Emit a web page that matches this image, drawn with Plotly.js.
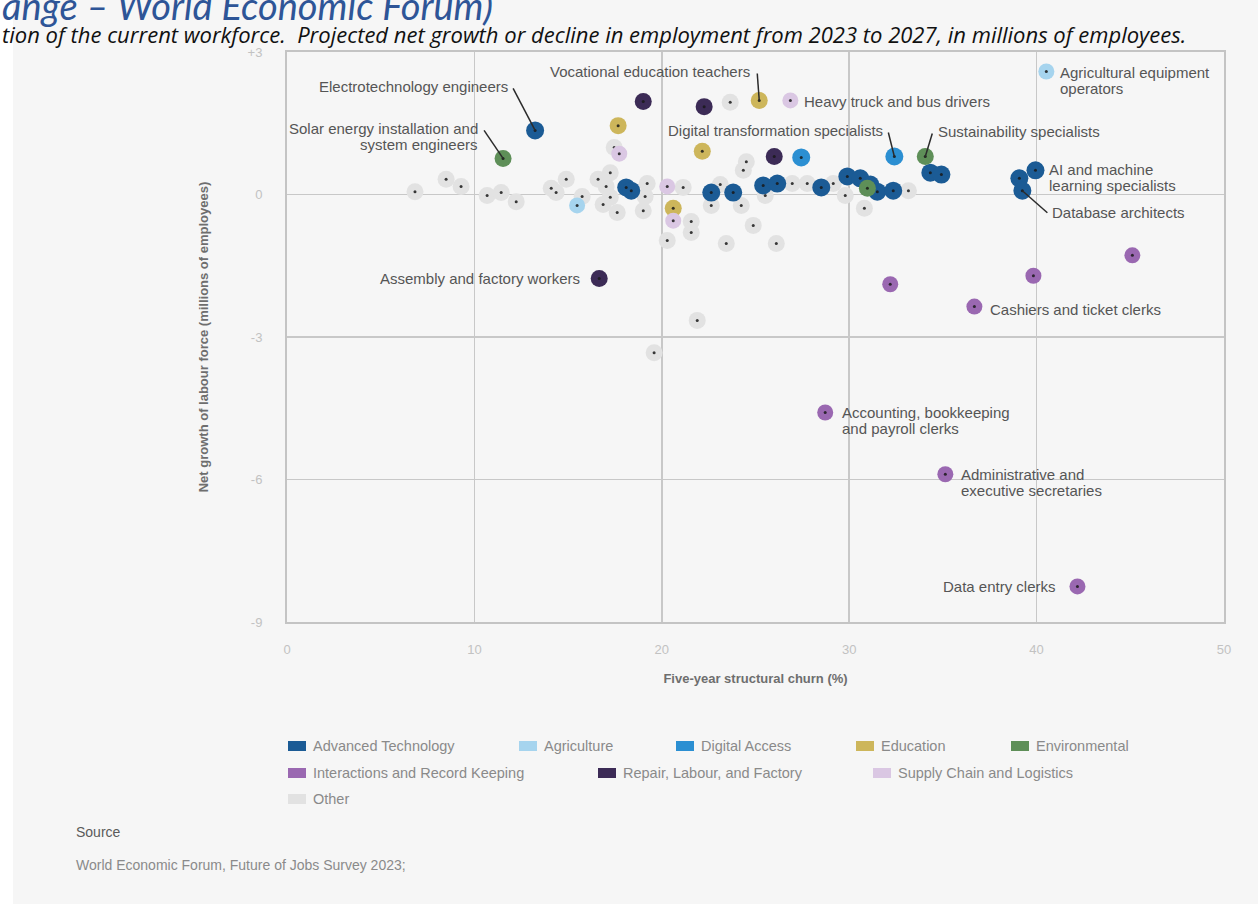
<!DOCTYPE html>
<html><head><meta charset="utf-8">
<script src="https://cdn.plot.ly/plotly-3.0.1.min.js"></script>
<style>html,body{margin:0;padding:0;background:#ffffff;}#chart{width:1258px;height:904px;}</style>
</head><body><div id="chart"></div>
<script>
// ---------- data ----------
const categories = ["Advanced Technology","Agriculture","Digital Access","Education","Environmental",
  "Interactions and Record Keeping","Repair, Labour, and Factory","Supply Chain and Logistics","Other"];

const advancedTechnologyX = [13.24,18.10,18.37,22.64,23.81,25.41,26.16,28.51,29.90,30.59,31.13,31.50,32.35,34.33,34.92,39.94,39.08,39.24];
const advancedTechnologyY = [1.35,0.15,0.08,0.04,0.04,0.19,0.23,0.15,0.38,0.34,0.21,0.06,0.08,0.46,0.42,0.51,0.34,0.08];
const agricultureX = [15.48,40.52];
const agricultureY = [-0.23,2.59];
const digitalAccessX = [27.44,32.41];
const digitalAccessY = [0.78,0.80];
const educationX = [25.20,17.67,22.16,20.61];
const educationY = [1.98,1.45,0.91,-0.29];
const environmentalX = [11.53,34.06,30.97];
const environmentalY = [0.76,0.80,0.13];
const interactionsX = [45.11,39.83,32.19,36.68,28.72,35.13,42.18];
const interactionsY = [-1.28,-1.71,-1.89,-2.36,-4.59,-5.89,-8.25];
const repairX = [16.66,19.01,22.26,26.00];
const repairY = [-1.77,1.96,1.85,0.80];
const supplyChainX = [26.86,17.73,20.29,20.61];
const supplyChainY = [1.98,0.86,0.17,-0.55];
const otherX = [6.83,8.49,9.29,10.68,11.43,12.23,14.10,14.36,14.90,15.75,16.60,17.25,17.46,17.03,17.25,16.87,17.62,
  19.22,19.11,19.01,21.14,20.29,21.57,21.57,22.64,24.35,24.51,24.24,24.88,25.52,23.44,26.11,26.96,27.76,29.15,29.79,
  30.81,33.16,23.65,21.89,19.59,23.12];
const otherY = [0.06,0.32,0.17,-0.02,0.04,-0.15,0.13,0.04,0.32,-0.04,0.32,0.46,0.99,0.17,-0.06,-0.21,-0.38,
  0.23,-0.04,-0.34,0.15,-0.97,-0.57,-0.80,-0.23,0.51,0.69,-0.23,-0.65,-0.02,-1.03,-1.03,0.23,0.23,0.23,-0.02,
  -0.29,0.08,1.94,-2.65,-3.33,0.21];

const xTickVals = [0,10,20,30,40,50];
const xTickText = ["0","10","20","30","40","50"];
const yTickVals = [3,0,-3,-6,-9];
const yTickText = ["+3","0","-3","-6","-9"];

// ---------- styling ----------
const colors = ["#1b5b95","#a6d4ee","#2b8fd2","#cdb65b","#5e8f58","#9a68b1","#3c2b56","#dac7e3","#e2e2e2"];
const sizes  = [18,16,18,17,17,16,17,16,17];
const seriesX = [advancedTechnologyX,agricultureX,digitalAccessX,educationX,environmentalX,interactionsX,repairX,supplyChainX,otherX];
const seriesY = [advancedTechnologyY,agricultureY,digitalAccessY,educationY,environmentalY,interactionsY,repairY,supplyChainY,otherY];
const FONT = "Liberation Sans, Arial, Helvetica, sans-serif";

// plot area in pixels
const L = 287, R = 1224, T = 52, B = 622;
const px2x = p => (p - L) / (R - L);
const px2y = p => (B - p) / (B - T);

// draw order: Other first, then the coloured groups
const order = [8,0,1,2,3,4,5,6,7];
const traces = [];
order.forEach(i => {
  traces.push({type:"scatter", mode:"markers", name:categories[i], x:seriesX[i], y:seriesY[i],
    marker:{color:colors[i], size:sizes[i], line:{width:0}}, showlegend:false, hoverinfo:"x+y+name"});
  traces.push({type:"scatter", mode:"markers", x:seriesX[i], y:seriesY[i],
    marker:{color:"rgba(25,25,25,0.85)", size:3}, showlegend:false, hoverinfo:"skip"});
});

// labelled points: [text, series index, point index, xshift, yshift, xanchor, leader dx, leader dy]
const labels = [
  ["Electrotechnology engineers",0,0,-25,44,"right",-22,42],
  ["Solar energy installation and<br>system engineers",4,0,-23,22,"right",-19,28],
  ["Vocational education teachers",3,0,-7,29,"right",-2,27],
  ["Heavy truck and bus drivers",7,0,12,-1,"left",null,null],
  ["Agricultural equipment<br>operators",1,1,12,-9,"left",null,null],
  ["Digital transformation specialists",2,1,-9,26,"right",-6,24],
  ["Sustainability specialists",4,1,11,25,"left",7,23],
  ["AI and machine<br>learning specialists",0,15,12,-7,"left",null,null],
  ["Database architects",0,17,28,-22,"left",25,-22],
  ["Assembly and factory workers",6,0,-17,0,"right",null,null],
  ["Cashiers and ticket clerks",5,3,14,-3,"left",null,null],
  ["Accounting, bookkeeping<br>and payroll clerks",5,4,15,-8,"left",null,null],
  ["Administrative and<br>executive secretaries",5,5,14,-8,"left",null,null],
  ["Data entry clerks",5,6,-19,0,"right",null,null]
];
const LINE_GAP = 16;

const annotations = [];
const shapes = [];

// white strip at left edge of the page
shapes.push({type:"rect", xref:"paper", yref:"paper", x0:px2x(0), x1:px2x(13), y0:px2y(904), y1:px2y(0),
  fillcolor:"#ffffff", line:{width:0}, layer:"below"});

labels.forEach(l => {
  const [text, s, k, xs, ys, xa, dx, dy] = l;
  const x = seriesX[s][k], y = seriesY[s][k];
  const lines = text.split("<br>");
  const n = lines.length;
  lines.forEach((t, j) => {
    annotations.push({x:x, y:y, xref:"x", yref:"y", text:t, showarrow:false, xanchor:xa, yanchor:"middle",
      align:xa, xshift:xs, yshift:ys + ((n - 1) / 2 - j) * LINE_GAP, font:{family:FONT, size:15, color:"#555555"}});
  });
  if (dx !== null) {
    shapes.push({type:"line", xref:"x", yref:"y", xsizemode:"pixel", ysizemode:"pixel",
      xanchor:x, yanchor:y, x0:0, y0:0, x1:dx, y1:dy, line:{color:"#2b2b2b", width:1.5}, layer:"above"});
  }
});

// manual legend (swatch left pixel, row centre pixel)
const legendPos = [[288,746],[519,746],[676,746],[856,746],[1011,746],[288,773],[598,773],[873,773],[288,799]];
categories.forEach((c,i) => {
  const [lx, ly] = legendPos[i];
  shapes.push({type:"rect", xref:"paper", yref:"paper", x0:px2x(lx), x1:px2x(lx+18), y0:px2y(ly+5), y1:px2y(ly-5),
    fillcolor:colors[i], line:{width:0}});
  annotations.push({xref:"paper", yref:"paper", x:px2x(lx+23), y:px2y(ly), text:c, showarrow:false,
    xanchor:"left", yanchor:"middle", font:{family:FONT, size:14.5, color:"#8a8a8a"}});
});

// headings and source
annotations.push({xref:"paper", yref:"paper", x:px2x(0), y:px2y(5), xanchor:"left", yanchor:"middle", showarrow:false,
  text:"<i>ange – World Economic Forum)</i>", font:{family:"Lato, Open Sans, sans-serif", size:38, color:"#2e5597"}});
annotations.push({xref:"paper", yref:"paper", x:px2x(0), y:px2y(34), xanchor:"left", yanchor:"middle", showarrow:false,
  text:"<i>tion of the current workforce.  Projected net growth or decline in employment from 2023 to 2027, in millions of employees.</i>",
  font:{family:"Open Sans, Lato, sans-serif", size:22, color:"#111111"}});
annotations.push({xref:"paper", yref:"paper", x:px2x(74), y:px2y(832), xanchor:"left", yanchor:"middle", showarrow:false,
  text:"Source", font:{family:FONT, size:14, color:"#5a5a5a"}});
annotations.push({xref:"paper", yref:"paper", x:px2x(74), y:px2y(865), xanchor:"left", yanchor:"middle", showarrow:false,
  text:"World Economic Forum, Future of Jobs Survey 2023;", font:{family:FONT, size:14, color:"#8a8a8a"}});

const layout = {
  width:1258, height:904,
  margin:{l:L, r:1258-R, t:T, b:904-B, pad:0},
  paper_bgcolor:"#f6f6f6", plot_bgcolor:"#f6f6f6",
  showlegend:false,
  xaxis:{range:[0,50], tickvals:xTickVals, ticktext:xTickText, showgrid:true, gridcolor:"#c8c8c8", gridwidth:1.5,
    zeroline:false, showline:true, mirror:true, linecolor:"#c4c4c4", linewidth:2,
    ticks:"outside", ticklen:14, tickcolor:"rgba(0,0,0,0)",
    tickfont:{family:FONT, size:13, color:"#c2c2c2"},
    title:{text:"Five-year structural churn (%)", standoff:18, font:{family:FONT, size:13, color:"#6e6e6e", weight:"bold"}}},
  yaxis:{range:[-9,3], tickvals:yTickVals, ticktext:yTickText, showgrid:true, gridcolor:"#c8c8c8", gridwidth:1.5,
    zeroline:false, showline:true, mirror:true, linecolor:"#c4c4c4", linewidth:2,
    ticks:"outside", ticklen:20, tickcolor:"rgba(0,0,0,0)",
    tickfont:{family:FONT, size:13, color:"#c2c2c2"},
    title:{text:"Net growth of labour force (millions of employees)", standoff:36, font:{family:FONT, size:13, color:"#6e6e6e", weight:"bold"}}},
  annotations:annotations,
  shapes:shapes
};

Plotly.newPlot("chart", traces, layout, {displayModeBar:false, staticPlot:true});
</script>
</body></html>
